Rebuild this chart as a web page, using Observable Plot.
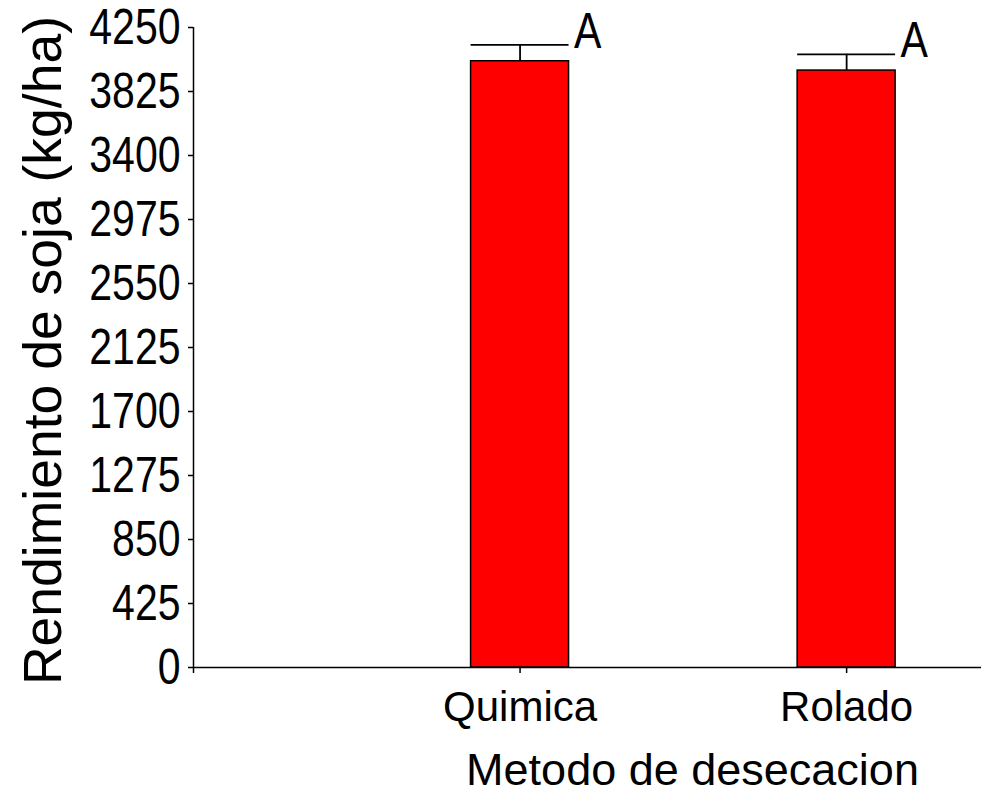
<!DOCTYPE html>
<html>
<head>
<meta charset="utf-8">
<script src="https://cdn.jsdelivr.net/npm/d3@7"></script>
<script src="https://cdn.jsdelivr.net/npm/@observablehq/plot@0.6"></script>
<style>
  html, body { margin: 0; padding: 0; background: #ffffff; }
  #chart svg { display: block; }
</style>
</head>
<body>
<div id="chart"></div>
<script>
// ---- data ----
const categories = ["Quimica", "Rolado"];
const yields = [4026, 3964];          // Rendimiento de soja (kg/ha)
const errors = [108, 108];           // error bar half-length
const letters = ["A", "A"];          // significance letters
const xTickLabels = ["", "Quimica", "Rolado"];
const yTicks = [0, 425, 850, 1275, 1700, 2125, 2550, 2975, 3400, 3825, 4250];

const data = categories.map((c, i) => ({
  cat: c, pos: i + 1, yield: yields[i], se: errors[i], letter: letters[i]
}));

const half = 0.15; // bar half width in category units
const font = "'Liberation Sans', Arial, Helvetica, sans-serif";

const chart = Plot.plot({
  width: 981,
  height: 799,
  marginTop: 27,
  marginBottom: 132,
  marginLeft: 193,
  marginRight: 0,
  style: { background: "#ffffff", color: "#000000", fontFamily: font },
  x: { domain: [0, 2.413], axis: null },
  y: { domain: [0, 4250], axis: null },
  marks: [
    Plot.rectY(data, {
      x1: d => d.pos - half, x2: d => d.pos + half, y: "yield",
      fill: "#ff0000", stroke: "#000000", strokeWidth: 1.5
    }),
    Plot.ruleX(data, { x: "pos", y1: "yield", y2: d => d.yield + d.se, stroke: "#000000", strokeWidth: 1.8 }),
    Plot.ruleY(data, { y: d => d.yield + d.se, x1: d => d.pos - half, x2: d => d.pos + half, stroke: "#000000", strokeWidth: 1.8 }),
    Plot.text(data, {
      x: d => d.pos + half, y: d => d.yield + d.se, text: "letter",
      textAnchor: "start", lineAnchor: "bottom", dx: 5, dy: 3,
      fontSize: 50, fontFamily: font, fill: "#000000", className: "narrow"
    }),
    // axis lines
    Plot.ruleX([0], { y1: 0, y2: 4250, stroke: "#000000", strokeWidth: 1.5 }),
    Plot.ruleY([0], { stroke: "#000000", strokeWidth: 1.5 }),
    Plot.axisY({
      ticks: yTicks, tickFormat: d => String(d), tickSize: 5, tickPadding: 8, label: null,
      fontSize: 50, fontFamily: font, stroke: "#000000", strokeWidth: 1.5, color: "#000000",
      className: "narrow"
    }),
    Plot.axisX({
      ticks: [0, 1, 2], tickFormat: i => xTickLabels[i], tickSize: 6, tickPadding: 18, label: null,
      fontSize: 42, fontFamily: font, stroke: "#000000", strokeWidth: 1.5, color: "#000000"
    }),
    // axis titles
    Plot.text(["Metodo de desecacion"], {
      frameAnchor: "bottom", text: d => d, dx: 105, dy: 117,
      fontSize: 45, fontFamily: font, fill: "#000000"
    }),
    Plot.text(["Rendimiento de soja (kg/ha)"], {
      frameAnchor: "left", textAnchor: "middle", text: d => d, rotate: -90, dx: -150, dy: 3,
      fontSize: 53.5, fontFamily: font, fill: "#000000"
    })
  ]
});

document.getElementById("chart").appendChild(chart);

// condense the numeric tick labels and letters (the reference uses a narrow face)
chart.querySelectorAll(".narrow text").forEach(t => {
  const w = t.getComputedTextLength();
  t.setAttribute("textLength", (w * 0.82).toFixed(1));
  t.setAttribute("lengthAdjust", "spacingAndGlyphs");
});
</script>
</body>
</html>
